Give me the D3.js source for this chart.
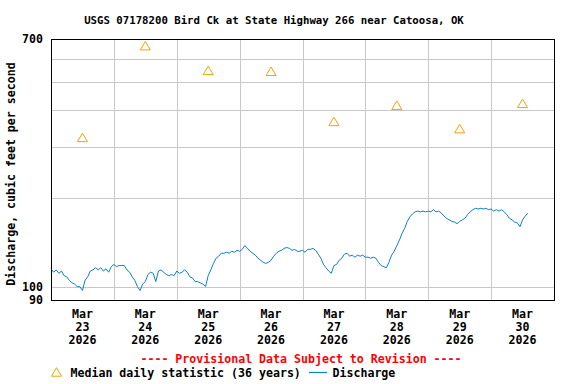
<!DOCTYPE html>
<html>
<head>
<meta charset="utf-8">
<script src="https://cdn.jsdelivr.net/npm/d3@7"></script>
<style>
  body { margin: 0; background: #fff; }
  text { font-family: "DejaVu Sans Mono", monospace; font-weight: bold; }
</style>
</head>
<body>
<div id="chart"></div>
<script>
const title = "USGS 07178200 Bird Ck at State Highway 266 near Catoosa, OK";
const days = ["23", "24", "25", "26", "27", "28", "29", "30"];
const medians = [323, 664, 547, 543, 366, 416, 346, 422];
const yTicks = [90, 100, 700];
const yGrid = [100, 200, 300, 400, 500, 600];

// hourly discharge from Mar 23 00:00
const discharge = [
  115, 112, 114, 111, 113, 109, 108, 105, 103, 102, 100, 100, 97, 105, 108, 113,
  114, 116, 114, 116, 113, 115, 112, 117, 119, 117, 118, 118, 118, 114, 112, 108,
  105, 100, 97, 102, 104, 110, 112, 111, 104, 113, 114, 112, 110, 109, 110, 109,
  113, 111, 112, 114, 112, 108, 107, 104, 104, 103, 102, 100, 109, 114, 120, 125,
  127, 130, 130, 131, 130, 132, 131, 133, 132, 134, 138, 135, 132, 130, 128, 125,
  123, 121, 120, 121, 123, 127, 130, 132, 133, 135, 136, 135, 133, 134, 132, 132,
  133, 131, 134, 134, 135, 133, 129, 125, 119, 116, 113, 111, 118, 119, 123, 125,
  129, 130, 127, 128, 126, 128, 127, 128, 126, 126, 125, 126, 125, 121, 118, 117,
  116, 121, 128, 132, 138, 144, 152, 158, 167, 173, 177, 180, 181, 180, 181, 180,
  181, 180, 183, 180, 181, 178, 174, 171, 169, 167, 166, 164, 167, 169, 171, 176,
  180, 183, 185, 184, 185, 184, 185, 183, 184, 181, 183, 181, 183, 180, 176, 171,
  169, 166, 165, 160, 169, 174, 178
];

const W = 576, H = 384;
const mLeft = 51, mRight = 554, mTop = 39, mBottom = 300;

const t0 = Date.UTC(2026, 2, 23);
const hour = 3600 * 1000;
const x = d3.scaleUtc()
  .domain([new Date(t0), new Date(t0 + 8 * 24 * hour)])
  .range([mLeft, mRight]);
const y = d3.scaleLog().domain([90, 700]).range([mBottom, mTop]);

const svg = d3.select("#chart").append("svg")
  .attr("width", W)
  .attr("height", H);

svg.append("text")
  .attr("x", 274).attr("y", 24)
  .attr("text-anchor", "middle")
  .style("font-size", "10.7px")
  .text(title);

// grid
const px = v => Math.round(v) + 0.5;
const dayTicks = d3.range(1, 8).map(i => new Date(t0 + i * 24 * hour));
svg.append("g").selectAll("line").data(dayTicks).enter().append("line")
  .attr("x1", d => px(x(d))).attr("x2", d => px(x(d)))
  .attr("y1", mTop).attr("y2", mBottom)
  .attr("stroke", "#c8c8c8").attr("shape-rendering", "crispEdges");
svg.append("g").selectAll("line").data(yGrid).enter().append("line")
  .attr("x1", mLeft).attr("x2", mRight)
  .attr("y1", d => px(y(d))).attr("y2", d => px(y(d)))
  .attr("stroke", "#c8c8c8").attr("shape-rendering", "crispEdges");

// discharge line
const line = d3.line()
  .x((d, i) => x(new Date(t0 + i * hour)))
  .y(d => y(d));
svg.append("path")
  .datum(discharge)
  .attr("d", line)
  .attr("fill", "none")
  .attr("stroke", "#0a7fcf")
  .attr("stroke-width", 1);

// median triangles
const tri = "M-5,4.2L5,4.2L0,-4.3Z";
svg.append("g").selectAll("path").data(medians).enter().append("path")
  .attr("d", tri)
  .attr("transform", (d, i) => "translate(" + x(new Date(t0 + (i * 24 + 12) * hour)) + "," + y(d) + ")")
  .attr("fill", "none")
  .attr("stroke", "#f5a300")
  .attr("stroke-width", 1);

// frame
svg.append("rect")
  .attr("x", mLeft + 0.5).attr("y", mTop + 0.5)
  .attr("width", mRight - mLeft).attr("height", mBottom - mTop)
  .attr("fill", "none").attr("stroke", "#000")
  .attr("shape-rendering", "crispEdges");

// y tick labels
svg.append("g").selectAll("text").data(yTicks).enter().append("text")
  .attr("x", 43).attr("y", d => y(d) + 4)
  .attr("text-anchor", "end")
  .style("font-size", "11.6px")
  .text(d => d);

// x tick labels
const xl = svg.append("g").selectAll("text").data(days).enter().append("text")
  .attr("text-anchor", "middle")
  .style("font-size", "11.6px")
  .attr("transform", (d, i) => "translate(" + x(new Date(t0 + (i * 24 + 12) * hour)) + ",0)");
xl.append("tspan").attr("x", 0).attr("y", 318).text("Mar");
xl.append("tspan").attr("x", 0).attr("y", 331).text(d => d);
xl.append("tspan").attr("x", 0).attr("y", 344).text("2026");

// y axis title
svg.append("text")
  .attr("transform", "translate(15,174) rotate(-90)")
  .attr("text-anchor", "middle")
  .style("font-size", "11.6px")
  .text("Discharge, cubic feet per second");

svg.append("text")
  .attr("x", 301).attr("y", 363)
  .attr("text-anchor", "middle")
  .attr("fill", "#ff0000")
  .style("font-size", "11.6px")
  .text("---- Provisional Data Subject to Revision ----");

// legend
svg.append("path")
  .attr("d", tri)
  .attr("transform", "translate(56.5,372)")
  .attr("fill", "none").attr("stroke", "#f5a300");
svg.append("text")
  .attr("x", 70.5).attr("y", 377)
  .style("font-size", "11.6px")
  .text("Median daily statistic (36 years)");
svg.append("line")
  .attr("x1", 309).attr("x2", 327).attr("y1", 372.5).attr("y2", 372.5)
  .attr("stroke", "#0a7fcf").attr("stroke-width", 1.2);
svg.append("text")
  .attr("x", 332.5).attr("y", 377)
  .style("font-size", "11.6px")
  .text("Discharge");
</script>
</body>
</html>
